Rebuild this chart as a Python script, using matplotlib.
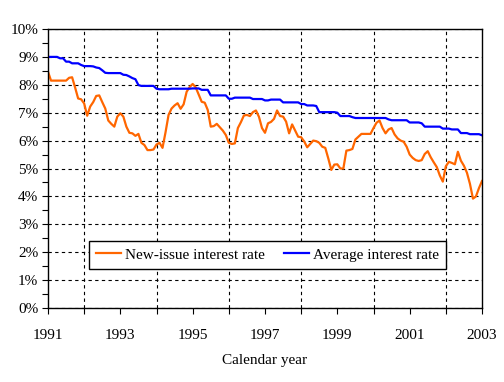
import matplotlib
matplotlib.use("Agg")
import matplotlib.pyplot as plt
from matplotlib.ticker import MultipleLocator, FuncFormatter
import numpy as np

start_year = 1991
new_issue = [
    8.47, 8.15, 8.15, 8.15, 8.15, 8.15, 8.15, 8.25, 8.27, 7.90, 7.51, 7.48,
    7.33, 6.89, 7.22, 7.38, 7.60, 7.62, 7.38, 7.15, 6.72, 6.60, 6.50, 6.86,
    6.98, 6.86, 6.50, 6.28, 6.26, 6.17, 6.24, 5.92, 5.84, 5.66, 5.66, 5.68,
    5.86, 5.92, 5.74, 6.30, 6.92, 7.15, 7.26, 7.34, 7.14, 7.30, 7.75, 7.92,
    8.03, 7.91, 7.65, 7.39, 7.36, 7.10, 6.50, 6.52, 6.60, 6.48, 6.36, 6.20,
    5.92, 5.88, 5.90, 6.45, 6.66, 6.90, 6.92, 6.88, 7.02, 7.08, 6.85, 6.45,
    6.28, 6.62, 6.67, 6.78, 7.08, 6.88, 6.86, 6.68, 6.26, 6.58, 6.36, 6.14,
    6.12, 5.97, 5.76, 5.88, 6.00, 5.98, 5.92, 5.78, 5.74, 5.36, 4.95, 5.14,
    5.15, 5.00, 5.00, 5.64, 5.66, 5.70, 6.04, 6.14, 6.24, 6.24, 6.24, 6.24,
    6.45, 6.64, 6.72, 6.45, 6.26, 6.40, 6.45, 6.22, 6.08, 6.00, 5.96, 5.78,
    5.50, 5.38, 5.30, 5.27, 5.30, 5.52, 5.62, 5.40, 5.22, 5.05, 4.75, 4.53,
    5.08, 5.24, 5.20, 5.15, 5.60, 5.28, 5.10, 4.85, 4.45, 3.92, 4.00, 4.30,
    4.55,
]
average = [
    9.00, 9.00, 9.00, 9.00, 8.95, 8.95, 8.83, 8.83, 8.77, 8.77, 8.77, 8.71,
    8.67, 8.67, 8.67, 8.66, 8.62, 8.60, 8.52, 8.43, 8.42, 8.42, 8.42, 8.42,
    8.42, 8.36, 8.35, 8.30, 8.24, 8.20, 7.99, 7.96, 7.96, 7.96, 7.96, 7.96,
    7.86, 7.84, 7.84, 7.84, 7.84, 7.86, 7.86, 7.86, 7.86, 7.86, 7.86, 7.86,
    7.87, 7.87, 7.87, 7.82, 7.82, 7.82, 7.62, 7.62, 7.62, 7.62, 7.62, 7.62,
    7.50, 7.50, 7.54, 7.54, 7.54, 7.54, 7.54, 7.54, 7.49, 7.49, 7.49, 7.49,
    7.44, 7.44, 7.47, 7.47, 7.47, 7.47, 7.37, 7.37, 7.37, 7.37, 7.37, 7.37,
    7.31, 7.31, 7.26, 7.26, 7.26, 7.24, 7.02, 7.02, 7.02, 7.02, 7.02, 7.02,
    7.00, 6.88, 6.88, 6.88, 6.88, 6.84, 6.81, 6.81, 6.81, 6.81, 6.81, 6.81,
    6.81, 6.81, 6.81, 6.81, 6.81, 6.76, 6.73, 6.73, 6.73, 6.73, 6.73, 6.73,
    6.65, 6.65, 6.65, 6.65, 6.62, 6.50, 6.50, 6.50, 6.50, 6.50, 6.50, 6.43,
    6.43, 6.43, 6.40, 6.40, 6.40, 6.27, 6.27, 6.27, 6.23, 6.23, 6.23, 6.23,
    6.19,
]
xtick_labels = ["1991", "1993", "1995", "1997", "1999", "2001", "2003"]
series_names = ["New-issue interest rate", "Average interest rate"]

plt.rcParams['font.family'] = ['Liberation Serif', 'DejaVu Serif']
plt.rcParams['font.size'] = 11

years = start_year + np.arange(len(new_issue)) / 12.0

fig = plt.figure(figsize=(5.04, 3.82), dpi=100)
ax = fig.add_axes([48/504, 1 - 308/382, (482-48)/504, (308-29)/382])

ax.plot(years, new_issue, color='#ff6600', lw=1.6, label=series_names[0])
ax.plot(years, average, color='#0000ff', lw=1.6, label=series_names[1])

ax.set_xlim(1991, 2003)
ax.set_ylim(0, 10)
ax.set_xticks([int(t) for t in xtick_labels])
ax.set_xticks(np.arange(1991, 2004, 1), minor=True)
ax.set_xticklabels(xtick_labels)
ax.yaxis.set_major_locator(MultipleLocator(1))
ax.yaxis.set_minor_locator(MultipleLocator(0.5))
ax.yaxis.set_major_formatter(FuncFormatter(lambda v, p: f"{int(round(v))}%"))

ax.grid(True, which='major', axis='y', color='black', linestyle=(0, (3, 3)), lw=0.8)
ax.grid(True, which='minor', axis='x', color='black', linestyle=(0, (3, 3)), lw=0.8)
ax.grid(False, which='major', axis='x')
ax.tick_params(axis='both', which='both', direction='out', length=4, width=0.8, color='black')
ax.tick_params(axis='x', which='major', pad=11, length=4)
ax.tick_params(axis='y', which='major', pad=3)
for s in ax.spines.values():
    s.set_color('black')
    s.set_linewidth(1.0)

ax.set_xlabel("Calendar year", labelpad=9)

leg = ax.legend(loc='center', bbox_to_anchor=(0.506, 0.19), ncol=2, frameon=True,
                fancybox=False, edgecolor='black', framealpha=1, handlelength=1.65,
                columnspacing=1.25, handletextpad=0.25, borderpad=0.45,
                borderaxespad=0)
leg.get_frame().set_linewidth(1.0)

fig.savefig("out.png", dpi=100)
